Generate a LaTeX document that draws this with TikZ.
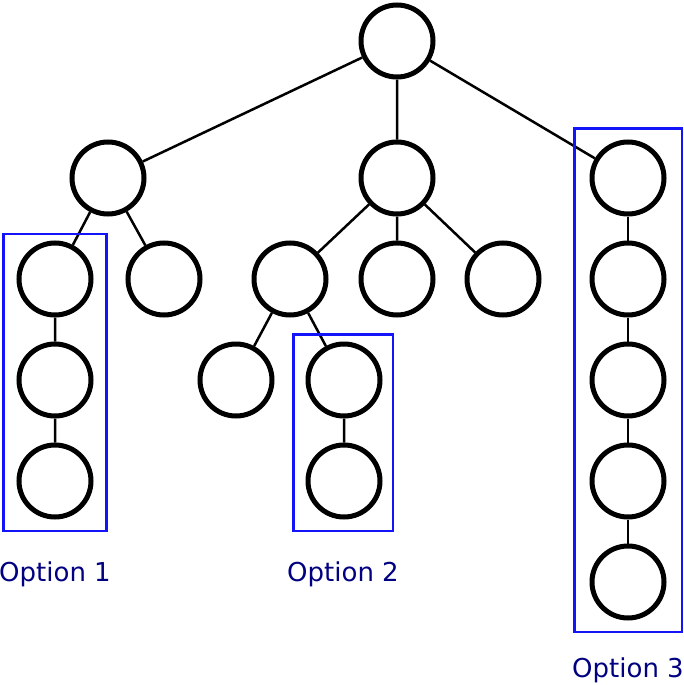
\documentclass[tikz,border=0pt]{standalone}
\usepackage{fontspec}
\setmainfont{DejaVu Sans}
\usepackage{tikz}
\definecolor{optnavy}{RGB}{0,0,128}
\definecolor{optblue}{RGB}{20,20,250}

\begin{document}
\begin{tikzpicture}[x=1pt,y=-1pt,
    vertex/.style={draw=black,line width=5pt,circle,minimum size=72pt,inner sep=0pt},
    optbox/.style={draw=optblue,line width=2.5pt},
    optlabel/.style={text=optnavy,anchor=base,font=\fontsize{26}{30}\selectfont}]
    \useasboundingbox (0,0) rectangle (684,685);
    % the tree
    \node [vertex] (root) at (397,41) {};
    \node [vertex] (l) at (108,178) {};
    \node [vertex] (m) at (397,178) {};
    \node [vertex] (r) at (628,178) {};
    \node [vertex] (l1) at (55,279) {};
    \node [vertex] (l2) at (164,279) {};
    \node [vertex] (l1a) at (55,380) {};
    \node [vertex] (l1b) at (55,481) {};
    \node [vertex] (m1) at (290,279) {};
    \node [vertex] (m2) at (397,279) {};
    \node [vertex] (m3) at (503,279) {};
    \node [vertex] (m1a) at (236,380) {};
    \node [vertex] (m1b) at (344,380) {};
    \node [vertex] (m1c) at (344,481) {};
    \node [vertex] (r1) at (628,279) {};
    \node [vertex] (r2) at (628,380) {};
    \node [vertex] (r3) at (628,481) {};
    \node [vertex] (r4) at (628,582) {};
    \draw [line width=2.5pt] (root) -- (l) (root) -- (m) (root) -- (r);
    \draw [line width=2.5pt] (l) -- (l1) (l) -- (l2) (l1) -- (l1a) (l1a) -- (l1b);
    \draw [line width=2.5pt] (m) -- (m1) (m) -- (m2) (m) -- (m3);
    \draw [line width=2.5pt] (m1) -- (m1a) (m1) -- (m1b) (m1b) -- (m1c);
    \draw [line width=2.5pt] (r) -- (r1) (r1) -- (r2) (r2) -- (r3) (r3) -- (r4);
    % the options
    \draw [optbox] (3.5,234) rectangle (106.5,531);
    \draw [optbox] (293.5,334.5) rectangle (393,531);
    \draw [optbox] (574.5,128.5) rectangle (682,632);
    \node [optlabel] (opt1) at (55,581) {Option 1};
    \node [optlabel] (opt2) at (343,581) {Option 2};
    \node [optlabel] (opt3) at (628,677) {Option 3};
\end{tikzpicture}
\end{document}
